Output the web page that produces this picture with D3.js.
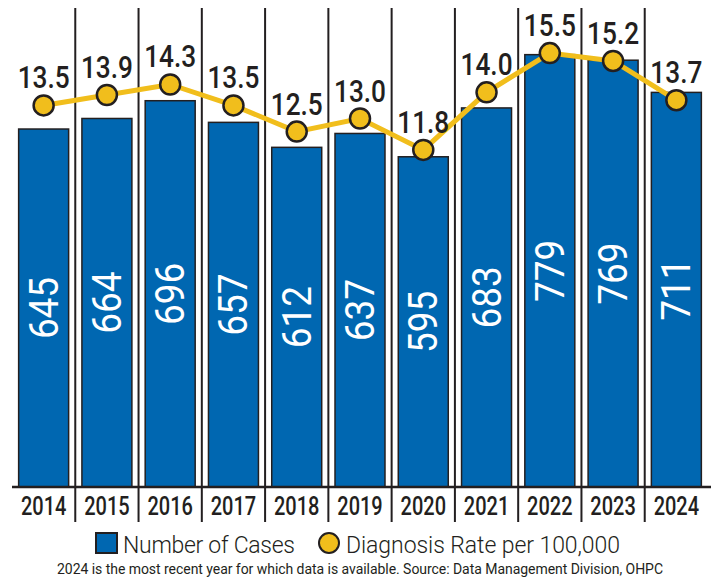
<!DOCTYPE html>
<html lang="en">

<head>
    <meta charset="UTF-8">
    <title>Number of Cases and Diagnosis Rate, 2014-2024</title>
    <script src="https://d3js.org/d3.v7.min.js"></script>
    <style>
        body {
            margin: 0;
            background: #fff;
        }

        text {
            font-family: Roboto, "Noto Sans", sans-serif;
            fill: #231f20;
        }
    </style>
</head>

<body>

    <script>
        // Chart size
        const width = 711;
        const height = 577;

        // Data
        const years = ['2014', '2015', '2016', '2017', '2018', '2019', '2020', '2021', '2022', '2023', '2024'];
        const cases = [645, 664, 696, 657, 612, 637, 595, 683, 779, 769, 711];
        const rates = [13.5, 13.9, 14.3, 13.5, 12.5, 13.0, 11.8, 14.0, 15.5, 15.2, 13.7];

        const blue = '#0067b1';
        const yellow = '#f1be1c';
        const ink = '#231f20';
        const baseY = 487;

        const svg = d3.select('body').append('svg')
            .attr('width', width)
            .attr('height', height);

        // Scales
        const x = d3.scaleBand()
            .domain(years)
            .range([12, 708])
            .paddingInner(0.21)
            .paddingOuter(0.105);

        const y = d3.scaleLinear()
            .domain([0, 800])
            .range([baseY, 43]);

        const yRate = d3.scaleLinear()
            .domain([10, 16])
            .range([197, 40]);

        const cx = d => x(d) + x.bandwidth() / 2;

        // Column dividers between years
        svg.selectAll('.divider')
            .data(years.slice(1))
            .enter().append('line')
            .attr('class', 'divider')
            .attr('x1', d => x(d) - x.step() * 0.105)
            .attr('x2', d => x(d) - x.step() * 0.105)
            .attr('y1', 8)
            .attr('y2', 522)
            .attr('stroke', ink)
            .attr('stroke-width', 2);

        // Bars
        svg.selectAll('.bar')
            .data(years)
            .enter().append('rect')
            .attr('class', 'bar')
            .attr('x', d => x(d))
            .attr('y', (d, i) => y(cases[i]))
            .attr('width', x.bandwidth())
            .attr('height', (d, i) => baseY - y(cases[i]))
            .attr('fill', blue)
            .attr('stroke', ink)
            .attr('stroke-width', 1.5);

        // Bar value labels, rotated
        svg.selectAll('.case-label')
            .data(years)
            .enter().append('text')
            .attr('class', 'case-label')
            .attr('transform', (d, i) => `translate(${cx(d) + 14},${(y(cases[i]) + baseY) / 2}) rotate(-90) scale(0.9,1)`)
            .attr('text-anchor', 'middle')
            .style('font-size', '41px')
            .style('font-weight', 400)
            .style('fill', '#fff')
            .text((d, i) => cases[i]);

        // Baseline
        svg.append('line')
            .attr('x1', 12)
            .attr('x2', width)
            .attr('y1', baseY)
            .attr('y2', baseY)
            .attr('stroke', ink)
            .attr('stroke-width', 2.5);

        // Year labels
        svg.selectAll('.year')
            .data(years)
            .enter().append('text')
            .attr('class', 'year')
            .attr('transform', d => `translate(${cx(d)},515) scale(0.8,1)`)
            .attr('text-anchor', 'middle')
            .style('font-size', '25px')
            .style('font-weight', 500)
            .text(d => d);

        // Rate line
        const line = d3.line()
            .x(d => cx(d))
            .y((d, i) => yRate(rates[i]));

        svg.append('path')
            .datum(years)
            .attr('d', line)
            .attr('fill', 'none')
            .attr('stroke', yellow)
            .attr('stroke-width', 5);

        svg.selectAll('.dot')
            .data(years)
            .enter().append('circle')
            .attr('class', 'dot')
            .attr('cx', d => cx(d))
            .attr('cy', (d, i) => yRate(rates[i]))
            .attr('r', 10)
            .attr('fill', yellow)
            .attr('stroke', ink)
            .attr('stroke-width', 2.5);

        svg.selectAll('.rate-label')
            .data(years)
            .enter().append('text')
            .attr('class', 'rate-label')
            .attr('transform', (d, i) => `translate(${cx(d)},${yRate(rates[i]) - 17}) scale(0.82,1)`)
            .attr('text-anchor', 'middle')
            .style('font-size', '32px')
            .style('font-weight', 500)
            .text((d, i) => d3.format('.1f')(rates[i]));

        // Legend
        svg.append('rect')
            .attr('x', 96)
            .attr('y', 533)
            .attr('width', 21)
            .attr('height', 20)
            .attr('fill', blue)
            .attr('stroke', ink)
            .attr('stroke-width', 2);

        svg.append('text')
            .attr('x', 123)
            .attr('y', 553)
            .attr('textLength', 172)
            .style('font-size', '23px')
            .style('font-weight', 300)
            .text('Number of Cases');

        svg.append('circle')
            .attr('cx', 329)
            .attr('cy', 543)
            .attr('r', 10)
            .attr('fill', yellow)
            .attr('stroke', ink)
            .attr('stroke-width', 2);

        svg.append('text')
            .attr('x', 346)
            .attr('y', 553)
            .attr('textLength', 274)
            .style('font-size', '23px')
            .style('font-weight', 300)
            .text('Diagnosis Rate per 100,000');

        // Footnote
        svg.append('text')
            .attr('x', 57)
            .attr('y', 574)
            .attr('textLength', 606)
            .style('font-size', '14px')
            .text('2024 is the most recent year for which data is available. Source: Data Management Division, OHPC');
    </script>

</body>

</html>
